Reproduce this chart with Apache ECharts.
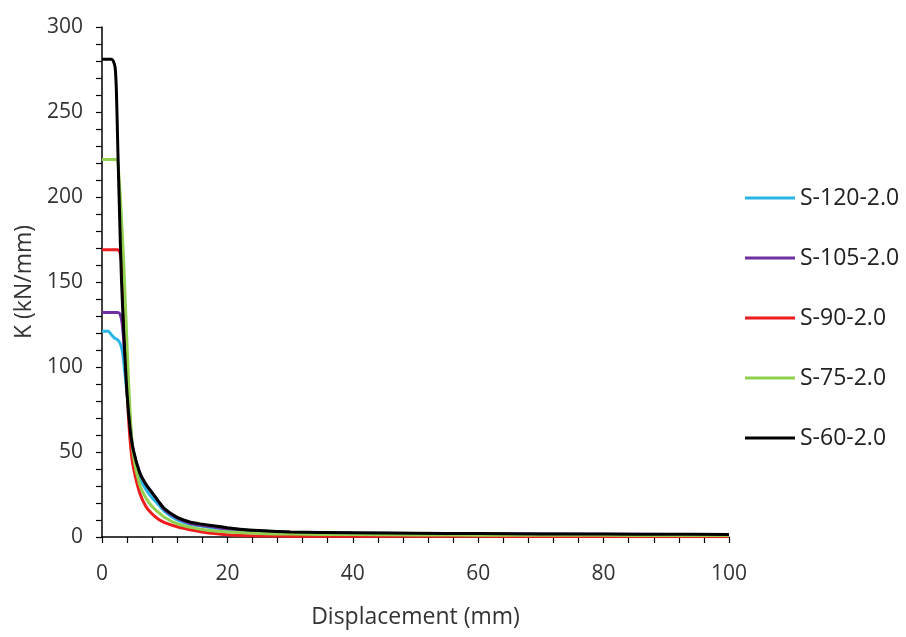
<!DOCTYPE html>
<html><head><meta charset="utf-8">
<script src="https://cdn.jsdelivr.net/npm/echarts@6/dist/echarts.min.js"></script>
<style>html,body{margin:0;padding:0;background:#fff}#c{width:906px;height:637px}</style>
</head><body><div id="c"></div>
<script>
const seriesNames = ['S-120-2.0','S-105-2.0','S-90-2.0','S-75-2.0','S-60-2.0'];
const seriesColors = ['#29b6e6','#7030a0','#ee1c1c','#92d050','#000000'];
const xTicks = [0,20,40,60,80,100];
const yTicks = [0,50,100,150,200,250,300];

const x120 = [0,0.5,1,1.5,2,2.5,3,3.3,3.6,4,4.5,5,6,7,8,9,10,12,14,16,18,20,25,30,40,50,60,70,80,90,100];
const y120 = [121,121,121,119,117,116,113,108,98,84,64,49,35,28,23,19,15,10,7.5,6.3,5.3,4.4,3.2,2.6,2.1,1.9,1.7,1.6,1.5,1.4,1.3];

const x105 = [0,0.5,1,1.5,2,2.5,2.9,3.2,3.5,3.8,4.2,4.6,5,6,7,8,9,10,12,14,16,18,20,25,30,40,50,60,70,80,90,100];
const y105 = [132,132,132,132,132,132,131,126,114,100,80,62,51,38,31,26,21,16,11,8,6.8,5.8,4.8,3.5,2.8,2.3,2,1.8,1.7,1.6,1.5,1.4];

const x90 = [0,0.5,1,1.5,2,2.5,2.9,3.2,3.5,3.8,4.2,4.6,5,6,7,8,9,10,12,14,16,18,20,22,25,30,40,50,60,70,80,90,100];
const y90 = [169,169,169,169,169,169,167,158,132,102,72,52,41,26,18,13.5,10.5,8.5,6,4.3,3,2,1.3,0.9,0.6,0.5,0.4,0.4,0.4,0.3,0.3,0.3,0.3];

const x75 = [0,0.5,1,1.5,2,2.4,2.7,3,3.5,4,4.5,5,6,7,8,9,10,12,14,16,18,20,25,30,40,50,60,70,80,90,100];
const y75 = [222,222,222,222,222,222,212,195,158,112,72,48,31,23,18,14.5,11.5,7.8,5.8,4.4,3.5,2.9,2.1,1.7,1.4,1.2,1.1,1,1,0.9,0.9];

const x60 = [0,0.5,1,1.5,1.8,2.1,2.3,2.5,2.8,3.1,3.5,4,4.5,5,6,7,8,9,10,12,14,16,18,20,22,25,30,40,50,60,70,80,90,100];
const y60 = [281,281,281,281,280,276,262,232,190,152,118,84,63,51,38,31,26,21,16.5,11.5,8.8,7.5,6.5,5.5,4.6,3.8,3,2.5,2.2,2,1.8,1.7,1.6,1.5];

const xs = [x120,x105,x90,x75,x60];
const ys = [y120,y105,y90,y75,y60];

const chart = echarts.init(document.getElementById('c'));
const font = 'Open Sans';
chart.setOption({
  animation:false,
  backgroundColor:'#fff',
  grid:{left:102,right:177,top:27,bottom:100},
  legend:{
    orient:'vertical', left:740, top:181,
    itemWidth:50, itemHeight:20, itemGap:36,
    textStyle:{fontFamily:font,fontSize:23,lineHeight:24,color:'#222'},
    data:seriesNames.map(n=>({name:n,icon:'path://M0,8.5 L50,8.5 L50,11.5 L0,11.5 Z'}))
  },
  xAxis:{
    type:'value', min:0, max:100, interval:20,
    name:'Displacement (mm)', nameLocation:'middle', nameGap:69,
    nameTextStyle:{fontFamily:font,fontSize:23,color:'#333'},
    axisLine:{lineStyle:{color:'#000',width:1.5}},
    axisTick:{show:true,length:6,lineStyle:{color:'#000',width:1.2}},
    minorTick:{show:true,splitNumber:5,length:6,lineStyle:{color:'#000',width:1.2}},
    axisLabel:{fontFamily:font,fontSize:21,color:'#333',margin:27,formatter:v=>xTicks.includes(v)?String(v):''},
    splitLine:{show:false}
  },
  yAxis:{
    type:'value', min:0, max:300, interval:50,
    name:'K (kN/mm)', nameLocation:'middle', nameGap:66, nameRotate:90,
    nameTextStyle:{fontFamily:font,fontSize:23,color:'#333'},
    axisLine:{show:true,lineStyle:{color:'#000',width:1.5}},
    axisTick:{show:true,length:6,lineStyle:{color:'#000',width:1.2}},
    minorTick:{show:true,splitNumber:5,length:6,lineStyle:{color:'#000',width:1.2}},
    axisLabel:{fontFamily:font,fontSize:21,color:'#333',margin:19,formatter:v=>yTicks.includes(v)?String(v):''},
    splitLine:{show:false}
  },
  series:seriesNames.map((n,i)=>({
    name:n, type:'line', smooth:0.3, showSymbol:false, symbol:'none',
    color:seriesColors[i],
    lineStyle:{width:3,color:seriesColors[i]},
    data:xs[i].map((x,j)=>[x,ys[i][j]])
  }))
});
</script></body></html>
